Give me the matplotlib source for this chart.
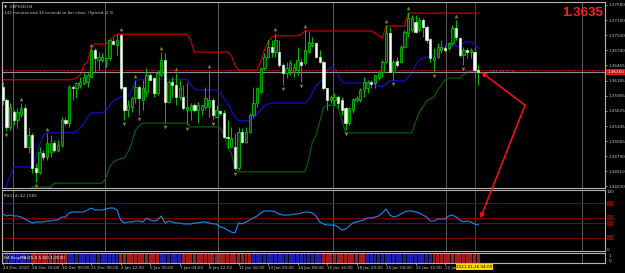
import numpy as np
import matplotlib
matplotlib.use("Agg")
import matplotlib.pyplot as plt
import matplotlib.transforms as mtransforms
from matplotlib.patches import ConnectionPatch

# GBPUSD H4 bars (bar 0 = 24 Dec 2020, bar 128 = 26 Jan 04:00)
opens = [
    1.3607, 1.3583, 1.3533, 1.3560, 1.3546, 1.3555, 1.3568, 1.3496, 1.3518, 1.3457,
    1.3450, 1.3485, 1.3477, 1.3486, 1.3503, 1.3490, 1.3499, 1.3546, 1.3540, 1.3607,
    1.3605, 1.3610, 1.3614, 1.3616, 1.3625, 1.3675, 1.3656, 1.3656, 1.3656, 1.3660,
    1.3691, 1.3684, 1.3702, 1.3607, 1.3564, 1.3570, 1.3586, 1.3607, 1.3582, 1.3597,
    1.3629, 1.3623, 1.3595, 1.3629, 1.3656, 1.3579, 1.3616, 1.3610, 1.3588, 1.3588,
    1.3564, 1.3564, 1.3573, 1.3564, 1.3564, 1.3570, 1.3570, 1.3583, 1.3551, 1.3562,
    1.3558, 1.3514, 1.3496, 1.3496, 1.3457, 1.3523, 1.3505, 1.3523, 1.3555, 1.3577,
    1.3597, 1.3642, 1.3662, 1.3680, 1.3671, 1.3671, 1.3647, 1.3632, 1.3638, 1.3634,
    1.3638, 1.3653, 1.3651, 1.3671, 1.3684, 1.3688, 1.3662, 1.3653, 1.3605, 1.3583,
    1.3583, 1.3588, 1.3583, 1.3568, 1.3540, 1.3564, 1.3583, 1.3583, 1.3601, 1.3605,
    1.3616, 1.3614, 1.3623, 1.3634, 1.3653, 1.3706, 1.3634, 1.3654, 1.3653, 1.3680,
    1.3706, 1.3712, 1.3726, 1.3712, 1.3730, 1.3717, 1.3695, 1.3656, 1.3662, 1.3675,
    1.3678, 1.3678, 1.3688, 1.3715, 1.3697, 1.3666, 1.3675, 1.3671, 1.3671, 1.3638,
]
highs = [
    1.3616, 1.3586, 1.3577, 1.3564, 1.3568, 1.3577, 1.3573, 1.3533, 1.3522, 1.3466,
    1.3496, 1.3490, 1.3522, 1.3518, 1.3509, 1.3509, 1.3551, 1.3551, 1.3610, 1.3610,
    1.3616, 1.3625, 1.3632, 1.3632, 1.3678, 1.3678, 1.3671, 1.3669, 1.3662, 1.3693,
    1.3697, 1.3704, 1.3706, 1.3607, 1.3582, 1.3588, 1.3619, 1.3610, 1.3619, 1.3642,
    1.3632, 1.3625, 1.3638, 1.3671, 1.3669, 1.3619, 1.3625, 1.3632, 1.3619, 1.3610,
    1.3614, 1.3577, 1.3577, 1.3579, 1.3573, 1.3607, 1.3638, 1.3586, 1.3573, 1.3564,
    1.3564, 1.3546, 1.3533, 1.3522, 1.3533, 1.3531, 1.3533, 1.3558, 1.3607, 1.3607,
    1.3643, 1.3669, 1.3693, 1.3693, 1.3706, 1.3693, 1.3651, 1.3653, 1.3656, 1.3651,
    1.3680, 1.3660, 1.3712, 1.3708, 1.3699, 1.3689, 1.3675, 1.3656, 1.3605, 1.3592,
    1.3595, 1.3592, 1.3588, 1.3570, 1.3570, 1.3586, 1.3590, 1.3605, 1.3625, 1.3619,
    1.3619, 1.3629, 1.3638, 1.3656, 1.3721, 1.3717, 1.3656, 1.3662, 1.3684, 1.3712,
    1.3745, 1.3739, 1.3739, 1.3736, 1.3734, 1.3721, 1.3697, 1.3678, 1.3688, 1.3693,
    1.3684, 1.3689, 1.3721, 1.3730, 1.3699, 1.3680, 1.3678, 1.3678, 1.3678, 1.3647,
]
lows = [
    1.3573, 1.3525, 1.3527, 1.3536, 1.3531, 1.3551, 1.3494, 1.3485, 1.3448, 1.3431,
    1.3446, 1.3472, 1.3472, 1.3477, 1.3486, 1.3486, 1.3496, 1.3536, 1.3533, 1.3583,
    1.3586, 1.3605, 1.3610, 1.3607, 1.3625, 1.3632, 1.3638, 1.3653, 1.3643, 1.3656,
    1.3684, 1.3665, 1.3601, 1.3546, 1.3551, 1.3560, 1.3577, 1.3555, 1.3564, 1.3588,
    1.3619, 1.3588, 1.3592, 1.3625, 1.3540, 1.3577, 1.3588, 1.3573, 1.3583, 1.3564,
    1.3536, 1.3546, 1.3560, 1.3540, 1.3555, 1.3564, 1.3551, 1.3546, 1.3549, 1.3555,
    1.3512, 1.3494, 1.3494, 1.3453, 1.3453, 1.3503, 1.3503, 1.3522, 1.3551, 1.3570,
    1.3595, 1.3638, 1.3660, 1.3662, 1.3662, 1.3643, 1.3610, 1.3623, 1.3629, 1.3625,
    1.3629, 1.3616, 1.3647, 1.3669, 1.3680, 1.3660, 1.3651, 1.3601, 1.3564, 1.3577,
    1.3573, 1.3568, 1.3555, 1.3527, 1.3536, 1.3558, 1.3579, 1.3579, 1.3588, 1.3595,
    1.3605, 1.3605, 1.3619, 1.3625, 1.3651, 1.3634, 1.3619, 1.3643, 1.3651, 1.3678,
    1.3699, 1.3708, 1.3706, 1.3708, 1.3699, 1.3688, 1.3653, 1.3634, 1.3660, 1.3669,
    1.3671, 1.3675, 1.3684, 1.3693, 1.3662, 1.3647, 1.3660, 1.3660, 1.3623, 1.3610,
]
closes = [
    1.3583, 1.3533, 1.3570, 1.3546, 1.3560, 1.3568, 1.3496, 1.3518, 1.3457, 1.3450,
    1.3487, 1.3477, 1.3503, 1.3503, 1.3490, 1.3499, 1.3546, 1.3540, 1.3607, 1.3605,
    1.3614, 1.3616, 1.3625, 1.3629, 1.3675, 1.3660, 1.3662, 1.3662, 1.3660, 1.3693,
    1.3686, 1.3693, 1.3605, 1.3564, 1.3573, 1.3586, 1.3607, 1.3586, 1.3605, 1.3629,
    1.3619, 1.3595, 1.3632, 1.3656, 1.3579, 1.3616, 1.3610, 1.3588, 1.3605, 1.3568,
    1.3570, 1.3573, 1.3564, 1.3573, 1.3573, 1.3586, 1.3583, 1.3555, 1.3564, 1.3558,
    1.3514, 1.3512, 1.3512, 1.3457, 1.3523, 1.3505, 1.3523, 1.3555, 1.3577, 1.3605,
    1.3642, 1.3662, 1.3680, 1.3671, 1.3693, 1.3647, 1.3632, 1.3642, 1.3651, 1.3643,
    1.3656, 1.3647, 1.3675, 1.3689, 1.3688, 1.3662, 1.3653, 1.3605, 1.3583, 1.3588,
    1.3588, 1.3577, 1.3564, 1.3540, 1.3568, 1.3584, 1.3586, 1.3601, 1.3616, 1.3616,
    1.3612, 1.3629, 1.3634, 1.3653, 1.3706, 1.3634, 1.3653, 1.3647, 1.3680, 1.3708,
    1.3734, 1.3734, 1.3708, 1.3730, 1.3717, 1.3693, 1.3660, 1.3662, 1.3680, 1.3680,
    1.3675, 1.3688, 1.3715, 1.3699, 1.3666, 1.3675, 1.3671, 1.3675, 1.3638, 1.3635,
]

# channel indicator: upper (red), middle (blue), lower (green)
upper_line = [
    1.3620, 1.3620, 1.3620, 1.3620, 1.3620, 1.3620, 1.3620, 1.3620, 1.3620, 1.3620,
    1.3620, 1.3620, 1.3620, 1.3620, 1.3620, 1.3620, 1.3620, 1.3620, 1.3620, 1.3621,
    1.3623, 1.3629, 1.3647, 1.3653, 1.3678, 1.3686, 1.3686, 1.3686, 1.3686, 1.3693,
    1.3699, 1.3704, 1.3704, 1.3704, 1.3704, 1.3704, 1.3704, 1.3704, 1.3704, 1.3704,
    1.3704, 1.3704, 1.3704, 1.3704, 1.3704, 1.3704, 1.3704, 1.3704, 1.3704, 1.3704,
    1.3704, 1.3693, 1.3671, 1.3671, 1.3671, 1.3671, 1.3671, 1.3671, 1.3671, 1.3671,
    1.3671, 1.3671, 1.3665, 1.3647, 1.3638, 1.3638, 1.3638, 1.3638, 1.3638, 1.3638,
    1.3653, 1.3675, 1.3690, 1.3699, 1.3701, 1.3701, 1.3701, 1.3701, 1.3701, 1.3701,
    1.3701, 1.3704, 1.3710, 1.3710, 1.3710, 1.3710, 1.3710, 1.3710, 1.3710, 1.3710,
    1.3710, 1.3710, 1.3710, 1.3710, 1.3710, 1.3710, 1.3710, 1.3710, 1.3710, 1.3710,
    1.3710, 1.3706, 1.3701, 1.3697, 1.3719, 1.3719, 1.3719, 1.3719, 1.3719, 1.3719,
    1.3743, 1.3743, 1.3743, 1.3743, 1.3743, 1.3743, 1.3743, 1.3743, 1.3743, 1.3743,
    1.3743, 1.3743, 1.3743, 1.3743, 1.3743, 1.3743, 1.3743, 1.3743, 1.3743, 1.3743,
]
mid_line = [
    1.3413, 1.3424, 1.3442, 1.3459, 1.3459, 1.3459, 1.3459, 1.3459, 1.3459, 1.3477,
    1.3500, 1.3518, 1.3522, 1.3522, 1.3522, 1.3522, 1.3522, 1.3522, 1.3522, 1.3522,
    1.3524, 1.3531, 1.3538, 1.3551, 1.3559, 1.3559, 1.3559, 1.3559, 1.3564, 1.3573,
    1.3581, 1.3585, 1.3588, 1.3590, 1.3590, 1.3601, 1.3616, 1.3621, 1.3621, 1.3621,
    1.3621, 1.3621, 1.3621, 1.3621, 1.3621, 1.3621, 1.3621, 1.3621, 1.3621, 1.3621,
    1.3621, 1.3610, 1.3603, 1.3601, 1.3601, 1.3601, 1.3601, 1.3601, 1.3601, 1.3597,
    1.3585, 1.3577, 1.3564, 1.3551, 1.3544, 1.3544, 1.3544, 1.3544, 1.3549, 1.3557,
    1.3564, 1.3572, 1.3575, 1.3577, 1.3577, 1.3577, 1.3577, 1.3577, 1.3577, 1.3577,
    1.3577, 1.3577, 1.3577, 1.3583, 1.3596, 1.3608, 1.3616, 1.3621, 1.3638, 1.3642,
    1.3640, 1.3629, 1.3616, 1.3614, 1.3614, 1.3614, 1.3614, 1.3614, 1.3614, 1.3614,
    1.3614, 1.3612, 1.3608, 1.3607, 1.3612, 1.3618, 1.3618, 1.3618, 1.3618, 1.3618,
    1.3625, 1.3634, 1.3647, 1.3656, 1.3660, 1.3662, 1.3662, 1.3666, 1.3669, 1.3675,
    1.3680, 1.3682, 1.3682, 1.3682, 1.3682, 1.3688, 1.3690, 1.3690, 1.3686, 1.3679,
]
lower_line = [
    1.3407, 1.3407, 1.3407, 1.3407, 1.3407, 1.3407, 1.3407, 1.3407, 1.3422, 1.3422,
    1.3422, 1.3422, 1.3422, 1.3422, 1.3429, 1.3429, 1.3429, 1.3429, 1.3429, 1.3429,
    1.3429, 1.3429, 1.3429, 1.3429, 1.3429, 1.3429, 1.3429, 1.3429, 1.3439, 1.3459,
    1.3468, 1.3472, 1.3474, 1.3476, 1.3487, 1.3503, 1.3527, 1.3535, 1.3540, 1.3540,
    1.3540, 1.3540, 1.3540, 1.3540, 1.3540, 1.3540, 1.3540, 1.3540, 1.3540, 1.3540,
    1.3540, 1.3533, 1.3533, 1.3533, 1.3533, 1.3533, 1.3533, 1.3533, 1.3533, 1.3531,
    1.3518, 1.3496, 1.3485, 1.3457, 1.3450, 1.3450, 1.3450, 1.3450, 1.3450, 1.3450,
    1.3450, 1.3450, 1.3450, 1.3450, 1.3450, 1.3450, 1.3450, 1.3450, 1.3450, 1.3450,
    1.3450, 1.3450, 1.3450, 1.3472, 1.3505, 1.3518, 1.3542, 1.3568, 1.3573, 1.3573,
    1.3573, 1.3568, 1.3546, 1.3522, 1.3522, 1.3522, 1.3522, 1.3522, 1.3522, 1.3522,
    1.3522, 1.3522, 1.3522, 1.3522, 1.3522, 1.3522, 1.3522, 1.3522, 1.3522, 1.3522,
    1.3522, 1.3522, 1.3542, 1.3560, 1.3570, 1.3581, 1.3585, 1.3588, 1.3601, 1.3610,
    1.3620, 1.3623, 1.3623, 1.3623, 1.3623, 1.3629, 1.3634, 1.3636, 1.3636, 1.3636,
]

rsi = [
    61.4, 57.9, 59.6, 57.9, 57.9, 56.1, 52.6, 49.1, 45.6, 47.4,
    47.4, 47.4, 49.1, 49.1, 50.9, 50.9, 56.1, 56.1, 63.2, 64.9,
    64.9, 64.9, 64.9, 68.4, 71.9, 68.4, 68.4, 68.4, 70.2, 71.9,
    71.9, 68.4, 50.9, 45.6, 47.4, 47.4, 49.1, 49.1, 47.4, 54.4,
    50.9, 49.1, 50.9, 57.9, 45.6, 49.1, 47.4, 45.6, 45.6, 43.9,
    43.9, 43.9, 45.6, 45.6, 47.4, 47.4, 45.6, 43.9, 43.9, 38.6,
    36.8, 33.3, 29.8, 28.1, 45.6, 43.9, 47.4, 50.9, 54.4, 57.9,
    63.2, 66.7, 66.7, 66.7, 64.9, 61.4, 59.6, 59.6, 59.6, 61.4,
    61.4, 63.2, 64.9, 64.9, 63.2, 57.9, 47.4, 43.9, 42.1, 42.1,
    42.1, 38.6, 33.3, 35.1, 40.4, 45.6, 47.4, 49.1, 50.9, 54.4,
    54.4, 56.1, 57.9, 63.2, 70.2, 59.6, 56.1, 57.9, 61.4, 64.9,
    66.7, 66.7, 64.9, 63.2, 59.6, 56.1, 49.1, 49.1, 52.6, 52.6,
    52.6, 57.9, 59.6, 56.1, 50.9, 47.4, 49.1, 47.4, 43.9, 42.1585,
]
rsi_levels = [80, 55, 45, 20]

# StepMA colour per bar: b = up (blue), r = down (red)
stepma_state = ("bbbbbbbbrr rrrrrrrrbb bbbbbbbbbb bbrrrrrrrr rrrbbbbbbr "
                "rrrrrrrrrr rrrrrrrrbb bbbbbbbbbb bbbbbbbrrr rrrrrrrrrb "
                "bbbbbbbbbb bbbbbbbrrr rrrrrrrrrr").replace(" ", "")

fractal_up = [5, 12, 24, 32, 36, 43, 47, 56, 74, 82, 104, 110, 123]
fractal_dn = [1, 9, 33, 37, 44, 50, 57, 63, 76, 81, 93, 106, 117, 125]

time_labels = ["24 Dec 2020", "28 Dec 16:00", "30 Dec 00:00", "31 Dec 08:00",
               "4 Jan 12:00", "5 Jan 20:00", "7 Jan 04:00", "8 Jan 12:00",
               "11 Jan 16:00", "13 Jan 00:00", "14 Jan 08:00", "15 Jan 16:00",
               "18 Jan 20:00", "20 Jan 04:00", "21 Jan 12:00", "22 Jan"]
label_bars = [0, 8, 16, 24, 32, 40, 48, 56, 64, 72, 80, 88, 96, 104, 112, 120]
separators = [2.8, 27.8, 58.4, 89.6, 120.3, 157.2]   # weekly period separators
cursor_bar = 128
cursor_text = "2021.01.26 04:00"

price_ticks = [1.37580, 1.37300, 1.37020, 1.36740, 1.36465, 1.36185, 1.35905,
               1.35625, 1.35345, 1.35065, 1.34790, 1.34510, 1.34230]
bid = 1.36350
ask = 1.36373

# hand-drawn arrow objects (bar, price) / (bar, rsi)
arrow_vertex = (141.7, 1.3573)
arrow_tip_main = (129.8, 1.3634)
arrow_tip_rsi = (129.6, 54.0)

W, H = 625, 273
FG = "#c8c8c8"
plt.rcParams["font.family"] = "DejaVu Sans"

fig = plt.figure(figsize=(W / 100, H / 100), dpi=100, facecolor="black")


def add_panel(top, bottom):
    return fig.add_axes([2 / W, 1 - bottom / H, 603 / W, (bottom - top) / H], facecolor="black")


ax = add_panel(2, 188)
ax_rsi = add_panel(190, 251)
ax_st = add_panel(253, 263)

x = np.arange(len(closes))
o, h, l, c = (np.array(v) for v in (opens, highs, lows, closes))
up = c >= o

for a in (ax, ax_rsi, ax_st):
    a.set_xlim(-0.2, 163.4)
    for s in a.spines.values():
        s.set_color("#b4b4b4")
        s.set_linewidth(0.8)
    a.tick_params(axis="x", bottom=False, labelbottom=False)
    for sx in separators:
        a.axvline(sx, color="#d8d8d8", lw=0.6, ls=(0, (1.2, 1.2)), zorder=1)
    a.axvline(cursor_bar, color="#d4a800", lw=0.6, ls=(0, (1.2, 1.2)), zorder=1)

# ---- main price panel
ax.set_ylim(1.34202, 1.37635)
ax.plot(x, upper_line, color="#c00000", lw=0.9, zorder=2)
ax.plot(x, mid_line, color="#1010c0", lw=0.9, zorder=2)
ax.plot(x, lower_line, color="#0a5a0a", lw=0.9, zorder=2)
ax.axhline(ask, color="#d00000", lw=0.7, ls=(0, (2, 1.5)), zorder=2)
ax.axhline(bid, color="#8c8ca0", lw=0.8, zorder=2)

ax.vlines(x, l, h, color="#00c000", lw=0.7, zorder=3)
body_lo = np.minimum(o, c)
body_h = np.maximum(np.abs(c - o), 0.00004)
ax.bar(x[up], body_h[up], bottom=body_lo[up], width=0.62, facecolor="#0a3c0a",
       edgecolor="#00c000", lw=0.6, zorder=4)
ax.bar(x[~up], body_h[~up], bottom=body_lo[~up], width=0.62, facecolor="white",
       edgecolor="#c8f0c8", lw=0.5, zorder=4)

fu = np.array(fractal_up)
fd = np.array(fractal_dn)
ax.plot(fu, h[fu] + 0.0007, ls="none", marker="^", ms=2.6, mew=0, color="#8c7c20", zorder=5)
ax.plot(fd, l[fd] - 0.0007, ls="none", marker="v", ms=2.6, mew=0, color="#8c7c20", zorder=5)

ax.yaxis.tick_right()
ax.set_yticks(price_ticks)
ax.set_yticklabels([f"{p:.5f}" for p in price_ticks])
ax.tick_params(axis="y", colors=FG, labelsize=3, length=1.5, width=0.5, pad=1)

ax.text(arrow_tip_main[0] + 2.5, bid, "142:34 (2.3)", fontsize=3, color="#8c8c8c",
        va="center", ha="left", zorder=6)
ax.text(0.9967, 0.943, f"{bid:.4f}", transform=ax.transAxes, ha="right", va="center",
        color="#ff1e1e", fontsize=9.5, fontweight="bold", family="Liberation Sans")
ax.text(1.004, bid, f"{bid:.5f}", transform=ax.get_yaxis_transform(), ha="left",
        va="center", fontsize=3, color="white", clip_on=False, zorder=6,
        bbox=dict(boxstyle="square,pad=0.25", fc="#e01010", ec="none"))
ax.text(0.004, 0.985, "\u25bc  GBPUSD,H4", transform=ax.transAxes, fontsize=2.8,
        color=FG, va="top", ha="left")
ax.text(0.002, 0.95, "-142 minutes and 34 seconds to bar close. (Spread: 2.3)",
        transform=ax.transAxes, fontsize=2.8, color=FG, va="top", ha="left")

# ---- RSI panel
ax_rsi.set_ylim(-3.5, 103.5)
for lv in rsi_levels:
    ax_rsi.axhline(lv, color="#800000", lw=0.7, zorder=1)
    ax_rsi.text(1.004, lv, str(lv), transform=ax_rsi.get_yaxis_transform(), fontsize=2.6,
                color="#401010", va="center", ha="left", clip_on=False,
                bbox=dict(boxstyle="square,pad=0.2", fc="#800000", ec="none"))
ax_rsi.plot(x, rsi, color="#1e90ff", lw=0.75, zorder=3)
ax_rsi.yaxis.tick_right()
ax_rsi.set_yticks([100, 0])
ax_rsi.set_yticklabels(["100", "0"])
ax_rsi.tick_params(axis="y", colors=FG, labelsize=3, length=0, pad=1.5)
ax_rsi.text(0.003, 0.93, f"RSI(14) {rsi[-1]:.4f}", transform=ax_rsi.transAxes,
            fontsize=3, color=FG, va="top", ha="left")

# ---- StepMA panel
ax_st.set_ylim(0, 1)
st_colors = ["#1c1cb4" if s == "b" else "#a81818" for s in stepma_state]
ax_st.bar(x, 1, width=0.8, bottom=0, color=st_colors, zorder=2)
ax_st.set_yticks([])
ax_st.text(1.006, 0.72, "1", transform=ax_st.transAxes, fontsize=3, color=FG, va="center")
ax_st.text(1.006, 0.15, "0", transform=ax_st.transAxes, fontsize=3, color=FG, va="center")
ax_st.text(0.003, 0.5, "H4 StepMA(25,0.5,50) 1.0000", transform=ax_st.transAxes,
           fontsize=3, color="white", va="center", ha="left", zorder=5)

ax_st.set_xticks(label_bars)
ax_st.set_xticklabels(time_labels, ha="left")
ax_st.tick_params(axis="x", bottom=True, labelbottom=True, colors=FG, labelsize=3,
                  length=1.2, width=0.5, pad=0.8)
blend = mtransforms.blended_transform_factory(ax_st.transData, ax_st.transAxes)
ax_st.text(cursor_bar, -0.18, cursor_text, transform=blend, ha="center", va="top",
           fontsize=3, color="black", zorder=10, clip_on=False,
           bbox=dict(boxstyle="square,pad=0.2", fc="#ffd800", ec="none"))

# ---- red arrows drawn across the panels
for tip, axes_b in ((arrow_tip_main, ax), (arrow_tip_rsi, ax_rsi)):
    con = ConnectionPatch(xyA=arrow_vertex, coordsA="data", axesA=ax,
                          xyB=tip, coordsB="data", axesB=axes_b,
                          arrowstyle="-|>", mutation_scale=6, color="#ff1010",
                          lw=1.1, shrinkA=0, shrinkB=0, zorder=20)
    fig.add_artist(con)

fig.savefig("out.png", dpi=100, facecolor="black")
